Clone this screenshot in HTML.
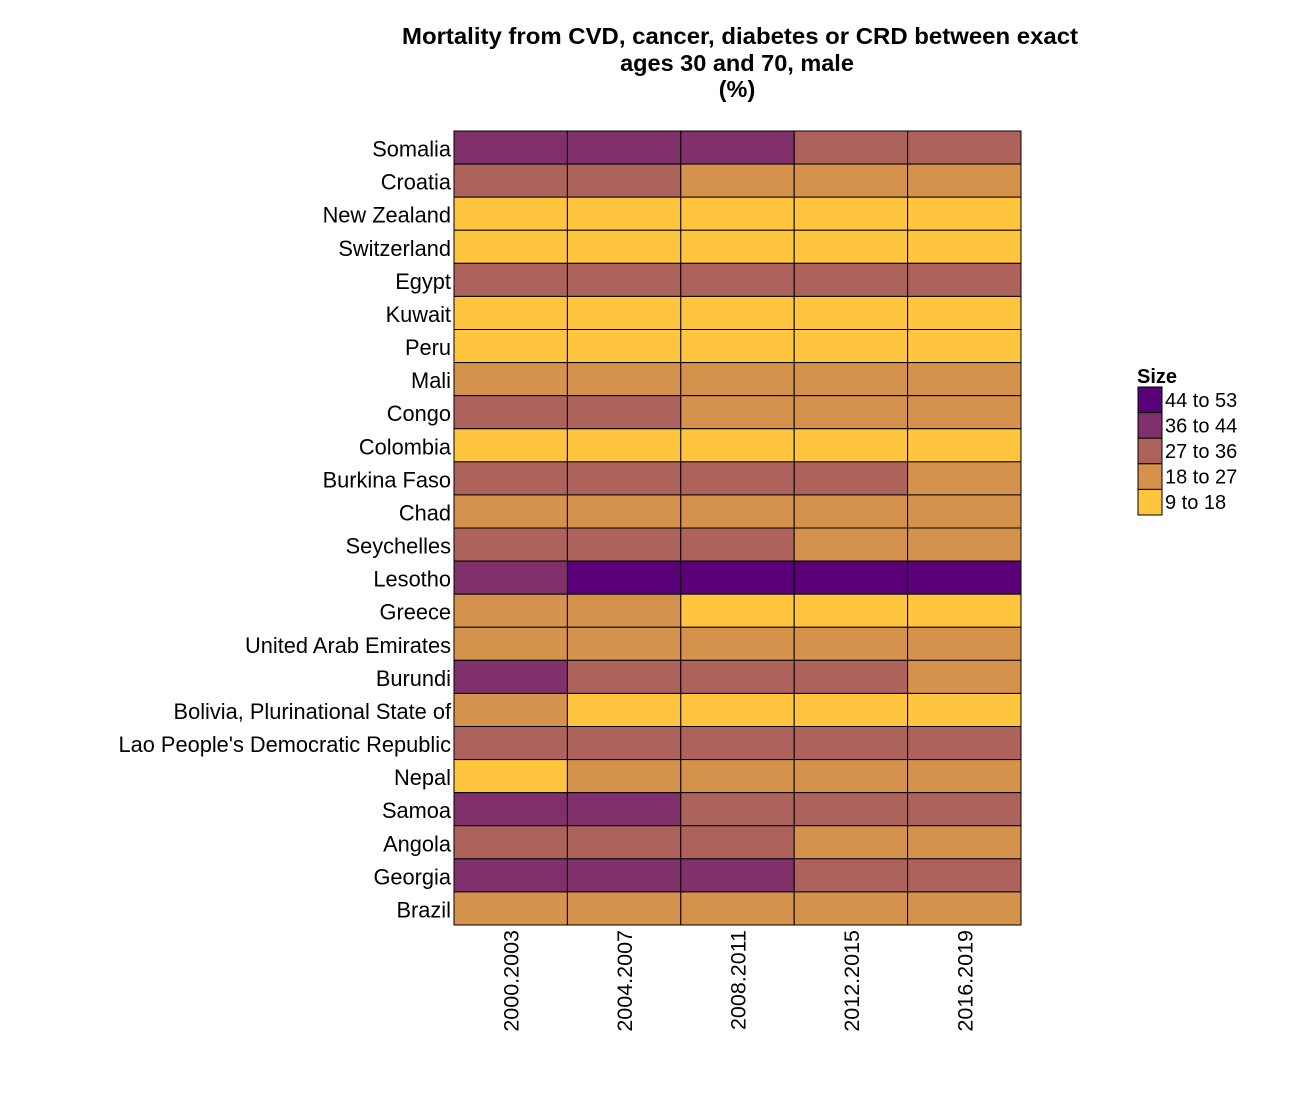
<!DOCTYPE html>
<html><head><meta charset="utf-8"><style>
html,body{margin:0;padding:0;background:#fff;}
svg{display:block;font-family:"Liberation Sans",Arial,sans-serif;}
</style></head><body>
<svg id="chart" width="1300" height="1100" xmlns="http://www.w3.org/2000/svg">
<g font-weight="bold" font-size="23.5" text-anchor="middle">
<text x="740" y="44" textLength="676" lengthAdjust="spacingAndGlyphs">Mortality from CVD, cancer, diabetes or CRD between exact</text>
<text x="737" y="71">ages 30 and 70, male</text>
<text x="737" y="97">(%)</text>
</g>
<g id="cells"></g>
<g id="ylabels"></g>
<g id="xlabels"></g>
<g id="legend"></g>
</svg>
<script>
const countries = ["Somalia","Croatia","New Zealand","Switzerland","Egypt","Kuwait","Peru","Mali","Congo","Colombia","Burkina Faso","Chad","Seychelles","Lesotho","Greece","United Arab Emirates","Burundi","Bolivia, Plurinational State of","Lao People's Democratic Republic","Nepal","Samoa","Angola","Georgia","Brazil"];
const periods = ["2000.2003","2004.2007","2008.2011","2012.2015","2016.2019"];
const values = [
[39,38,37,34,32],
[30,29,26,25,24],
[13,12,12,11,11],
[12,11,11,10,10],
[33,32,31,31,30],
[17,16,16,15,15],
[15,14,14,13,13],
[25,24,24,23,23],
[30,28,26,25,25],
[16,15,15,15,15],
[33,32,30,28,26],
[26,26,25,25,24],
[30,29,28,26,25],
[42,46,49,50,48],
[22,20,17,16,16],
[24,23,22,21,21],
[38,35,32,29,26],
[20,17,16,15,15],
[33,32,31,30,29],
[17,21,22,22,22],
[38,37,35,34,33],
[31,30,28,26,25],
[40,39,38,35,34],
[24,23,22,22,21]
];
const binLabels = ["44 to 53","36 to 44","27 to 36","18 to 27","9 to 18"];
const binMins = [44,36,27,18,9];
const binColors = ["#5a0079","#80306a","#ad625b","#d4924c","#ffc53f"];
const NS="http://www.w3.org/2000/svg";
const X0=454,X1=1021,Y0=131,Y1=925;
const cw=(X1-X0)/periods.length, ch=(Y1-Y0)/countries.length;
function xPos(i){return X0+i*cw;}
function yPos(j){return Y0+j*ch;}
function colorFor(v){for(let k=0;k<binMins.length;k++){if(v>=binMins[k])return binColors[k];}return binColors[binColors.length-1];}
function mk(tag,attrs){const e=document.createElementNS(NS,tag);for(const k in attrs)e.setAttribute(k,attrs[k]);return e;}
const cells=document.getElementById('cells');
values.forEach((row,j)=>row.forEach((v,i)=>{
 const r=mk('rect',{x:xPos(i),y:yPos(j),width:cw,height:ch,fill:colorFor(v),stroke:'#000','stroke-width':1});
 
 
 cells.appendChild(r);
}));
const yl=document.getElementById('ylabels');
countries.forEach((c,j)=>{
 const t=mk('text',{x:451,y:yPos(j)+ch/2+9,'text-anchor':'end','font-size':21.8});
 t.textContent=c;
 
 
 yl.appendChild(t);
});
const xl=document.getElementById('xlabels');
periods.forEach((p,i)=>{
 const cx=xPos(i)+cw/2+8;
 const t=mk('text',{x:cx,y:930,'text-anchor':'end','font-size':21.5,transform:`rotate(-90 ${cx} 930)`});
 t.textContent=p;
 
 
 xl.appendChild(t);
});
const lg=document.getElementById('legend');
const lt=mk('text',{x:1137,y:383,'font-size':20,'font-weight':'bold'});
lt.textContent='Size';


lg.appendChild(lt);
const lh=25.6;
binLabels.forEach((b,k)=>{
 const y=387+k*lh;
 const r=mk('rect',{x:1138,y:y,width:24,height:lh,fill:binColors[k],stroke:'#000','stroke-width':1});
 
 
 lg.appendChild(r);
 const t=mk('text',{x:1165,y:y+lh/2+7,'font-size':20});
 t.textContent=b;
 
 
 lg.appendChild(t);
});
</script>
</body></html>
